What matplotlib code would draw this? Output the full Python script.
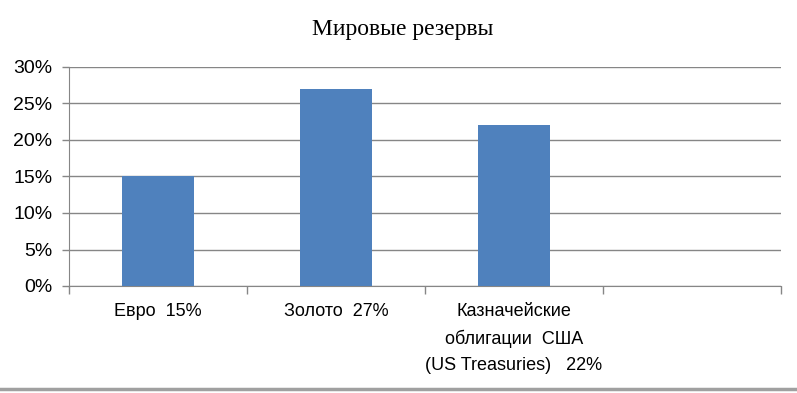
import matplotlib
matplotlib.use("Agg")
import matplotlib.pyplot as plt
from matplotlib.ticker import PercentFormatter, FixedLocator, NullFormatter

title = "Мировые резервы"
categories = ["Евро  15%", "Золото  27%", "Казначейские\nоблигации  США\n(US Treasuries)   22%", ""]
values = [15, 27, 22, 0]
yticks = [0, 5, 10, 15, 20, 25, 30]

plt.rcParams['font.family'] = ['Liberation Sans', 'DejaVu Sans']

fig = plt.figure(figsize=(7.97, 3.93), dpi=100)
ax = fig.add_axes([69/797, 1-286/393, (781-69)/797, (286-67)/393])

x = list(range(len(categories)))
ax.bar(x[:3], values[:3], width=0.4, color="#4F81BD", zorder=3)
ax.set_xlim(-0.5, len(categories)-0.5)
ax.set_ylim(0, 30)
ax.set_yticks(yticks)
ax.yaxis.set_major_formatter(PercentFormatter(decimals=0))
ax.grid(axis='y', color='#868686', linewidth=1, zorder=0)

ax.xaxis.set_major_locator(FixedLocator([i - 0.5 for i in range(len(categories)+1)]))
ax.xaxis.set_major_formatter(NullFormatter())
ax.tick_params(axis='x', length=6, color='#868686', width=1)
ax.tick_params(axis='y', length=5, color='#868686', width=1, labelsize=14, pad=7)

for i, lab in enumerate(categories):
    ax.text(i, -2.3, lab, ha='center', va='top', fontsize=13, linespacing=1.7,
            transform=ax.transData)

for s in ['top', 'right']:
    ax.spines[s].set_visible(False)
for s in ['left', 'bottom']:
    ax.spines[s].set_color('#868686')

fig.text(403/797, 1-30/393, title, ha='center', va='center', fontsize=17,
         family=['Liberation Serif', 'DejaVu Serif'])

fig.add_artist(plt.Line2D([0, 1], [1-389/393, 1-389/393], color='#A0A0A0', linewidth=2.5,
                          transform=fig.transFigure))

fig.savefig("out.png", dpi=100)
